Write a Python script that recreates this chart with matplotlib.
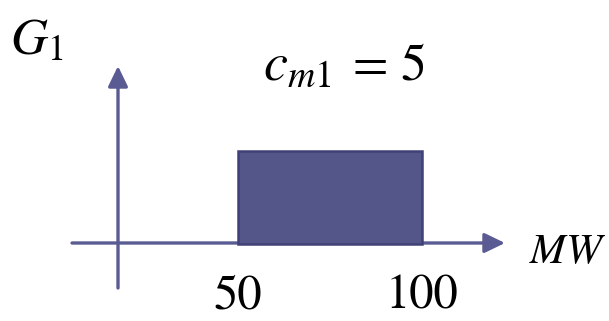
import matplotlib
matplotlib.use("Agg")
import matplotlib.pyplot as plt
import matplotlib.transforms as mtransforms

# Data
block_start = [50]        # MW
block_width = [50]        # MW
block_price = [5]         # c_m1
tick_values = [50, 100]
tick_labels = ["50", "100"]
generator_label = r"$G_1$"
price_symbol = r"$c_{m1}$"
price_value = "= 5"
xaxis_label = r"$MW$"

plt.rcParams["mathtext.fontset"] = "stix"

W, H = 609, 321
fig = plt.figure(figsize=(W / 100, H / 100), dpi=100)
ax = fig.add_axes([0, 0, 1, 1])
ax.set_axis_off()

# pixel mapping: x=50 -> px 238, x=100 -> px 422 ; y=0 -> py 244, y=5 -> py 151
sx = (422 - 238) / 50.0
sy = (244 - 151) / 5.0
ax.set_xlim(50 - 238 / sx, 50 + (W - 238) / sx)
ax.set_ylim(-(H - 244) / sy, 244 / sy)

# pixel transform (origin top-left)
pix = mtransforms.Affine2D().scale(1, -1).translate(0, H) + mtransforms.IdentityTransform()

axis_color = "#5a5b92"
arrow_kw = dict(arrowstyle="-|>,head_length=0.62,head_width=0.3", mutation_scale=20,
                lw=2.4, color=axis_color, shrinkA=0, shrinkB=0)
# horizontal axis arrow
ax.annotate("", xy=(505, 243), xytext=(72, 243), xycoords=pix, textcoords=pix,
            arrowprops=arrow_kw, zorder=1)
# vertical axis arrow
ax.annotate("", xy=(118, 66), xytext=(118, 288), xycoords=pix, textcoords=pix,
            arrowprops=arrow_kw, zorder=1)

# block
ax.bar(block_start, block_price, width=block_width, align="edge",
       color="#545588", edgecolor="#3f4177", linewidth=1.8, zorder=2)

# tick labels
for v, lab in zip(tick_values, tick_labels):
    ax.text(v, -(297 - 244) / sy, lab, ha="center", va="center",
            fontsize=35, family="STIXGeneral", color="black")

ax.text(10, 54, generator_label, transform=pix, fontsize=37, ha="left", va="baseline")
ax.text(263, 80, price_symbol, transform=pix, fontsize=39, ha="left", va="baseline")
ax.text(427, 80, price_value, transform=pix, fontsize=37, family="STIXGeneral",
        ha="right", va="baseline")
ax.text(529, 263, xaxis_label, transform=pix, fontsize=31, ha="left", va="baseline")

fig.savefig("out.png", dpi=100)
